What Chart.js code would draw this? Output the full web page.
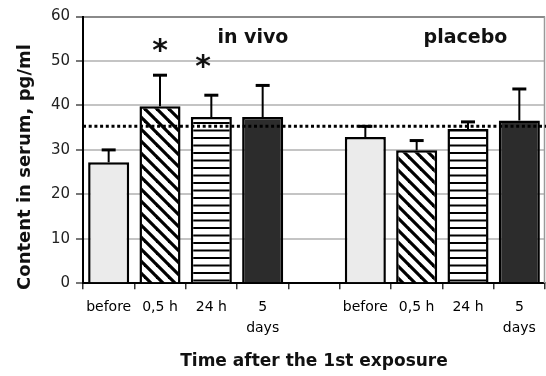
<!DOCTYPE html>
<html>
<head>
<meta charset="utf-8">
<script src="https://cdn.jsdelivr.net/npm/chart.js@4/dist/chart.umd.min.js"></script>
<style>
html,body{margin:0;padding:0;background:#fff;}
#wrap{width:546px;height:376px;position:relative;}
</style>
</head>
<body>
<div id="wrap"><canvas id="c" width="546" height="376"></canvas></div>
<script>
// ---- data ----
const categories = ['before', '0,5 h', '24 h', ['5', 'days'], '', 'before', '0,5 h', '24 h', ['5', 'days']];
const means      = [27.2, 39.8, 37.4, 37.4, null, 32.9, 29.9, 34.7, 36.6];
const errUpper   = [30.0, 46.8, 42.3, 44.5, null, 35.3, 32.1, 36.3, 43.7];
const fills      = ['light', 'diag', 'horiz', 'dark', 'light', 'light', 'diag', 'horiz', 'dark'];
const referenceLevel = 35.3;
const yTicks = [0, 10, 20, 30, 40, 50, 60];
const groupLabels = [{text: 'in vivo', pos: 2.81, value: 55.6}, {text: 'placebo', pos: 6.95, value: 55.6}];
const significance = [{text: '*', pos: 1.0, value: 53.6}, {text: '*', pos: 1.84, value: 49.9}];
const xTitle = 'Time after the 1st exposure';
const yTitle = 'Content in serum, pg/ml';

// ---- patterns ----
function makePattern(kind) {
  const cv = document.createElement('canvas');
  const cx = cv.getContext('2d');
  if (kind === 'diag') {
    const n = 12;
    cv.width = n; cv.height = n;
    cx.fillStyle = '#fff'; cx.fillRect(0, 0, n, n);
    cx.strokeStyle = '#000'; cx.lineWidth = 3.2;
    for (const o of [-n, 0, n]) {
      cx.beginPath(); cx.moveTo(o - 2, -2); cx.lineTo(o + n + 2, n + 2); cx.stroke();
    }
  } else {
    cv.width = 8; cv.height = 15;
    cx.fillStyle = '#fff'; cx.fillRect(0, 0, 8, 15);
    cx.fillStyle = '#000';
    cx.fillRect(0, 2, 8, 2);
    cx.fillRect(0, 9.5, 8, 2);
  }
  return cx.createPattern(cv, 'repeat');
}
const fillMap = {light: '#ebebeb', dark: '#2c2c2c', diag: makePattern('diag'), horiz: makePattern('horiz')};

const FONT = "'DejaVu Sans', 'Liberation Sans', Arial, sans-serif";

function catPx(xs, pos) {
  const i0 = Math.floor(pos), f = pos - i0;
  const a = xs.getPixelForValue(i0);
  const b = xs.getPixelForValue(i0 + 1);
  return a + (b - a) * f;
}

const extras = {
  id: 'extras',
  afterDatasetsDraw(chart) {
    const ctx = chart.ctx, xs = chart.scales.x, ys = chart.scales.y, ca = chart.chartArea;
    const meta = chart.getDatasetMeta(0);
    ctx.save();
    // right frame
    ctx.strokeStyle = '#9a9a9a'; ctx.lineWidth = 1.5;
    ctx.beginPath(); ctx.moveTo(ca.right - 0.5, ca.top); ctx.lineTo(ca.right - 0.5, ca.bottom); ctx.stroke();
    // error bars
    ctx.strokeStyle = '#000';
    means.forEach((v, i) => {
      if (v == null || errUpper[i] == null) return;
      const x = meta.data[i].x;
      const y0 = ys.getPixelForValue(v);
      const y1 = ys.getPixelForValue(errUpper[i]);
      ctx.lineWidth = 2;
      ctx.beginPath(); ctx.moveTo(x, y0); ctx.lineTo(x, y1); ctx.stroke();
      ctx.lineWidth = 3;
      ctx.beginPath(); ctx.moveTo(x - 7, y1); ctx.lineTo(x + 7, y1); ctx.stroke();
    });
    // reference dotted line
    const yr = ys.getPixelForValue(referenceLevel);
    ctx.lineWidth = 3; ctx.setLineDash([3, 2.7]);
    ctx.beginPath(); ctx.moveTo(ca.left, yr); ctx.lineTo(chart.width, yr); ctx.stroke();
    ctx.setLineDash([]);
    // group labels
    ctx.fillStyle = '#111';
    ctx.textAlign = 'center'; ctx.textBaseline = 'alphabetic';
    ctx.font = 'bold 19px ' + FONT;
    groupLabels.forEach(g => {
      ctx.fillText(g.text, catPx(xs, g.pos), ys.getPixelForValue(g.value) + 7);
    });
    // significance marks
    ctx.font = 'bold 30px ' + FONT;
    ctx.textBaseline = 'middle';
    significance.forEach(s => {
      ctx.fillText(s.text, catPx(xs, s.pos), ys.getPixelForValue(s.value) + 7);
    });
    // y title
    ctx.font = 'bold 18px ' + FONT;
    ctx.translate(25, 167);
    ctx.rotate(-Math.PI / 2);
    ctx.textBaseline = 'middle';
    ctx.fillText(yTitle, 0, 0);
    ctx.restore();
  }
};

new Chart(document.getElementById('c'), {
  type: 'bar',
  data: {
    labels: categories,
    datasets: [{
      data: means,
      backgroundColor: fills.map(f => fillMap[f]),
      borderColor: '#000',
      borderWidth: 2.5,
      borderSkipped: 'bottom',
      barPercentage: 0.8,
      categoryPercentage: 1.0
    }]
  },
  options: {
    responsive: false,
    animation: false,
    devicePixelRatio: 1,
    layout: {padding: {top: 16.5, right: 1, left: 0, bottom: 0}},
    plugins: {legend: {display: false}, tooltip: {enabled: false}},
    scales: {
      x: {
        grid: {offset: true, drawOnChartArea: false, drawTicks: true, tickLength: 6, color: '#333', lineWidth: 1.5},
        border: {display: true, color: '#000', width: 2},
        ticks: {color: '#000', font: {family: FONT, size: 14, lineHeight: 1.55}, padding: 7, maxRotation: 0, autoSkip: false},
        title: {display: true, text: xTitle, color: '#111', font: {family: FONT, size: 17, weight: 'bold'}, padding: {top: 6}},
        afterFit(s) { s.height = 92.7; }
      },
      y: {
        min: 0, max: 60,
        afterBuildTicks(s) { s.ticks = yTicks.map(v => ({value: v})); },
        grid: {
          color: c => (c.tick && c.tick.value === 60) ? '#8a8a8a' : '#c4c4c4',
          lineWidth: 2,
          tickLength: 7,
          tickColor: '#777'
        },
        border: {display: true, color: '#000', width: 2},
        ticks: {color: '#222', font: {family: FONT, size: 15}, padding: 6},
        afterFit(s) { s.width = 83; }
      }
    }
  },
  plugins: [extras]
});
</script>
</body>
</html>
